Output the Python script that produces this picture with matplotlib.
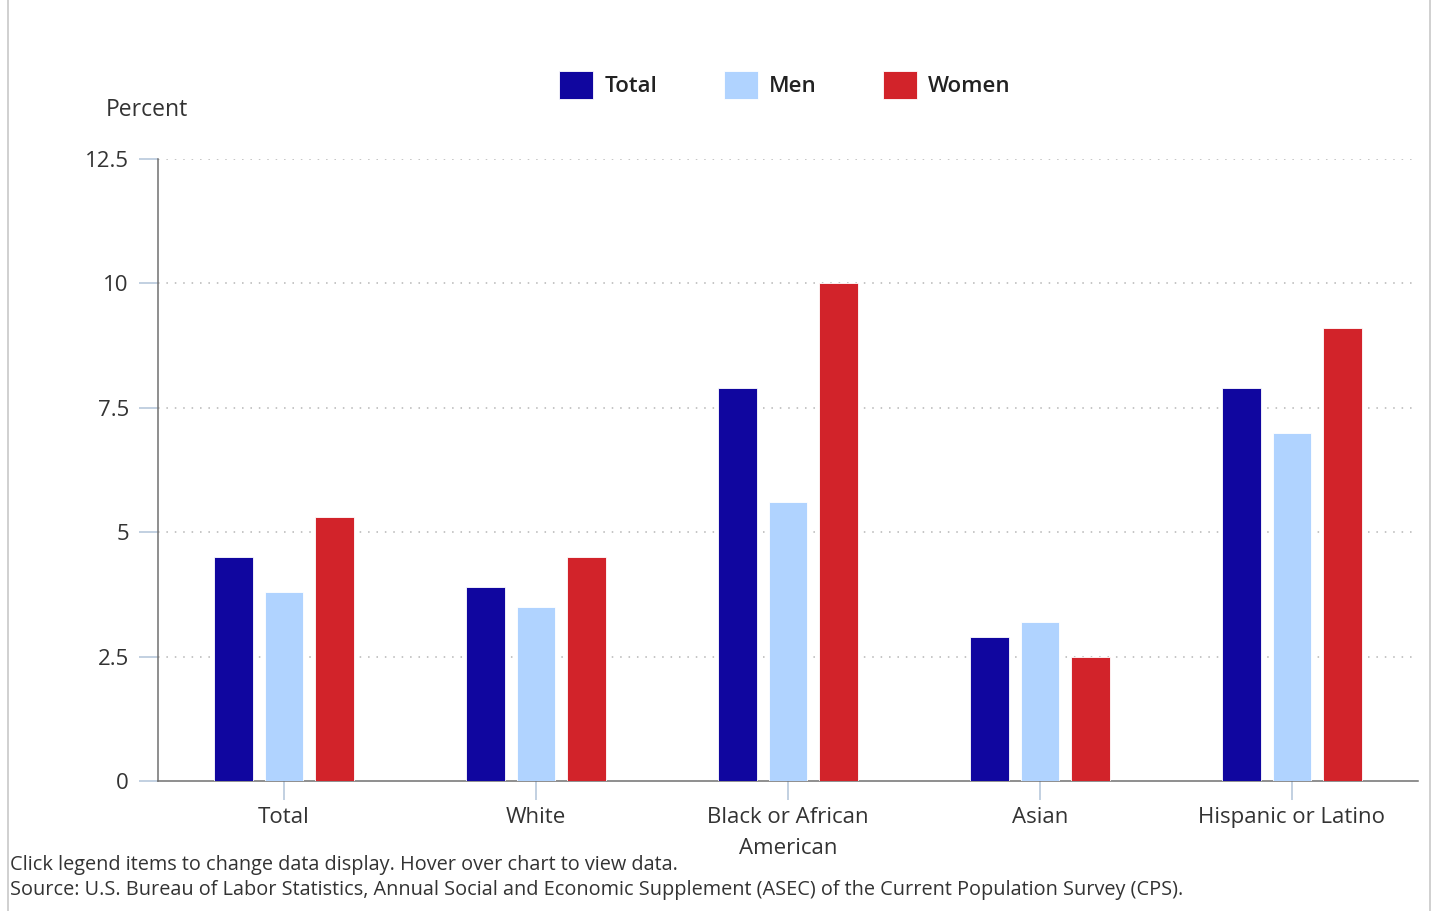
import matplotlib
matplotlib.use("Agg")
import matplotlib.pyplot as plt
import numpy as np

categories = ["Total", "White", "Black or African\nAmerican", "Asian", "Hispanic or Latino"]
series_names = ["Total", "Men", "Women"]
total_vals = [4.5, 3.9, 7.9, 2.9, 7.9]
men_vals = [3.8, 3.5, 5.6, 3.2, 7.0]
women_vals = [5.3, 4.5, 10.0, 2.5, 9.1]
y_ticks = [0, 2.5, 5, 7.5, 10, 12.5]
y_tick_labels = ["0", "2.5", "5", "7.5", "10", "12.5"]

colors = ["#10069f", "#b0d3ff", "#d2232a"]

plt.rcParams['font.family'] = ['Open Sans', 'DejaVu Sans']

fig = plt.figure(figsize=(14.33, 9.11), dpi=100)
ax = fig.add_axes([158/1433, 130/911, 1260/1433, 622/911])

x = np.arange(len(categories))
width = 0.152
offsets = [-0.2, 0.0, 0.2]
bars = []
for vals, off, c, name in zip([total_vals, men_vals, women_vals], offsets, colors, series_names):
    b = ax.bar(x + off, vals, width=width, color=c, edgecolor='white', linewidth=0.6, label=name, zorder=3)
    bars.append(b)

ax.set_xlim(-0.5, len(categories) - 0.5)
ax.set_ylim(0, 12.5)
ax.set_yticks(y_ticks)
ax.set_yticklabels(y_tick_labels)
ax.set_xticks(x)
ax.set_xticklabels(categories, linespacing=1.62)

for yv in y_ticks[1:]:
    ax.axhline(yv, color='#b5b5b5', linestyle=(0, (1, 4.5)), linewidth=1.1, zorder=1)

for s in ['top', 'right']:
    ax.spines[s].set_visible(False)
ax.spines['left'].set_color('#707070')
ax.spines['bottom'].set_color('#707070')
ax.spines['left'].set_linewidth(1.1)
ax.spines['bottom'].set_linewidth(1.1)

ax.tick_params(axis='y', length=14, width=1.2, color='#b8c8dc', labelsize=16, labelcolor='#333333', pad=7)
ax.tick_params(axis='x', length=14, width=1.2, color='#b8c8dc', labelsize=16, labelcolor='#333333', pad=5)

fig.text(106/1433, 1 - 110/911, "Percent", fontsize=16.5, color='#333333', ha='left', va='center')

leg = fig.legend(handles=bars, labels=series_names, loc='center', bbox_to_anchor=(785/1433, 1 - 85/911),
                 ncol=3, frameon=False, fontsize=16, handlelength=1.53, handleheight=1.55,
                 columnspacing=3.0, handletextpad=0.5)
for t in leg.get_texts():
    t.set_fontweight('semibold')
    t.set_color('#222222')

fig.text(10/1433, 1 - 865/911, "Click legend items to change data display. Hover over chart to view data.",
         fontsize=14.3, color='#333333', ha='left', va='center')
fig.text(10/1433, 1 - 890/911, "Source: U.S. Bureau of Labor Statistics, Annual Social and Economic Supplement (ASEC) of the Current Population Survey (CPS).",
         fontsize=14.3, color='#333333', ha='left', va='center')

# panel borders
fig.add_artist(plt.Line2D([7.5/1433, 7.5/1433], [0, 1], color='#c8c8c8', linewidth=1.2))
fig.add_artist(plt.Line2D([1430/1433, 1430/1433], [0, 1], color='#c8c8c8', linewidth=1.2))

fig.savefig("out.png", dpi=100)
